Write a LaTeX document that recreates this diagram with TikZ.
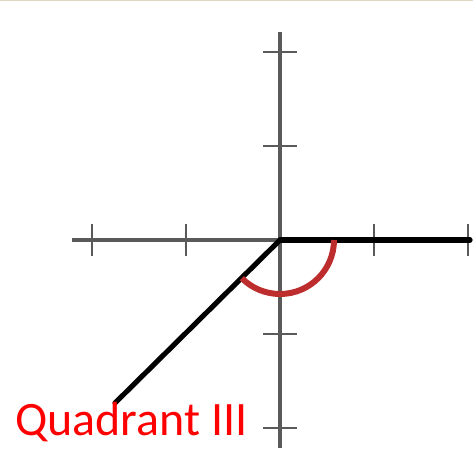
\documentclass[tikz,border=0pt]{standalone}
\usepackage{fontspec}
\setmainfont{Carlito}
\usepackage{xcolor}
\definecolor{axisgray}{RGB}{90,90,90}
\definecolor{arcred}{RGB}{190,45,45}
\definecolor{rulebeige}{RGB}{221,217,195}
\usetikzlibrary{positioning,calc}

\begin{document}
\begin{tikzpicture}[scale=0.02,
      axis/.style={draw=axisgray,line width=1.9pt},
      tick/.style={draw=axisgray,line width=1.3pt},
      ray/.style={draw=black,line width=2.9pt,line cap=round},
      anglearc/.style={draw=arcred,line width=3.4pt},
      lab/.style={font=\fontsize{27.3}{32}\selectfont,text=red,inner sep=0pt}]
    % frame of the picture (px, origin at the axes crossing)
    \useasboundingbox (-280,-217) rectangle (193,240);
    \draw[rulebeige,line width=0.9pt] (-280,239.5) -- (193,239.5);
    % axes
    \coordinate (O) at (0,0);
    \coordinate (xmin) at (-208,0);
    \coordinate (xmax) at (190,0);
    \coordinate (ymin) at (0,-208);
    \coordinate (ymax) at (0,208);
    \draw[axis] (xmin) -- (xmax);
    \draw[axis] (ymin) -- (ymax);
    % tick marks
    \foreach \t in {-188,-94,94,188} {
      \draw[tick] (\t,-16) -- (\t,16);
      \draw[tick] (-17,\t) -- (17,\t);
    }
    % terminal sides of the angle
    \coordinate (P) at (-165,-163);
    \draw[ray] (O) -- (xmax);
    \draw[ray] (O) -- (P);
    % the angle
    \draw[anglearc] (O) ++(0:54) arc[start angle=0,end angle=-135,radius=54];
    % label
    \node[lab,anchor=base west] (q3) at (-265,-195) {Quadrant III};
\end{tikzpicture}
\end{document}
